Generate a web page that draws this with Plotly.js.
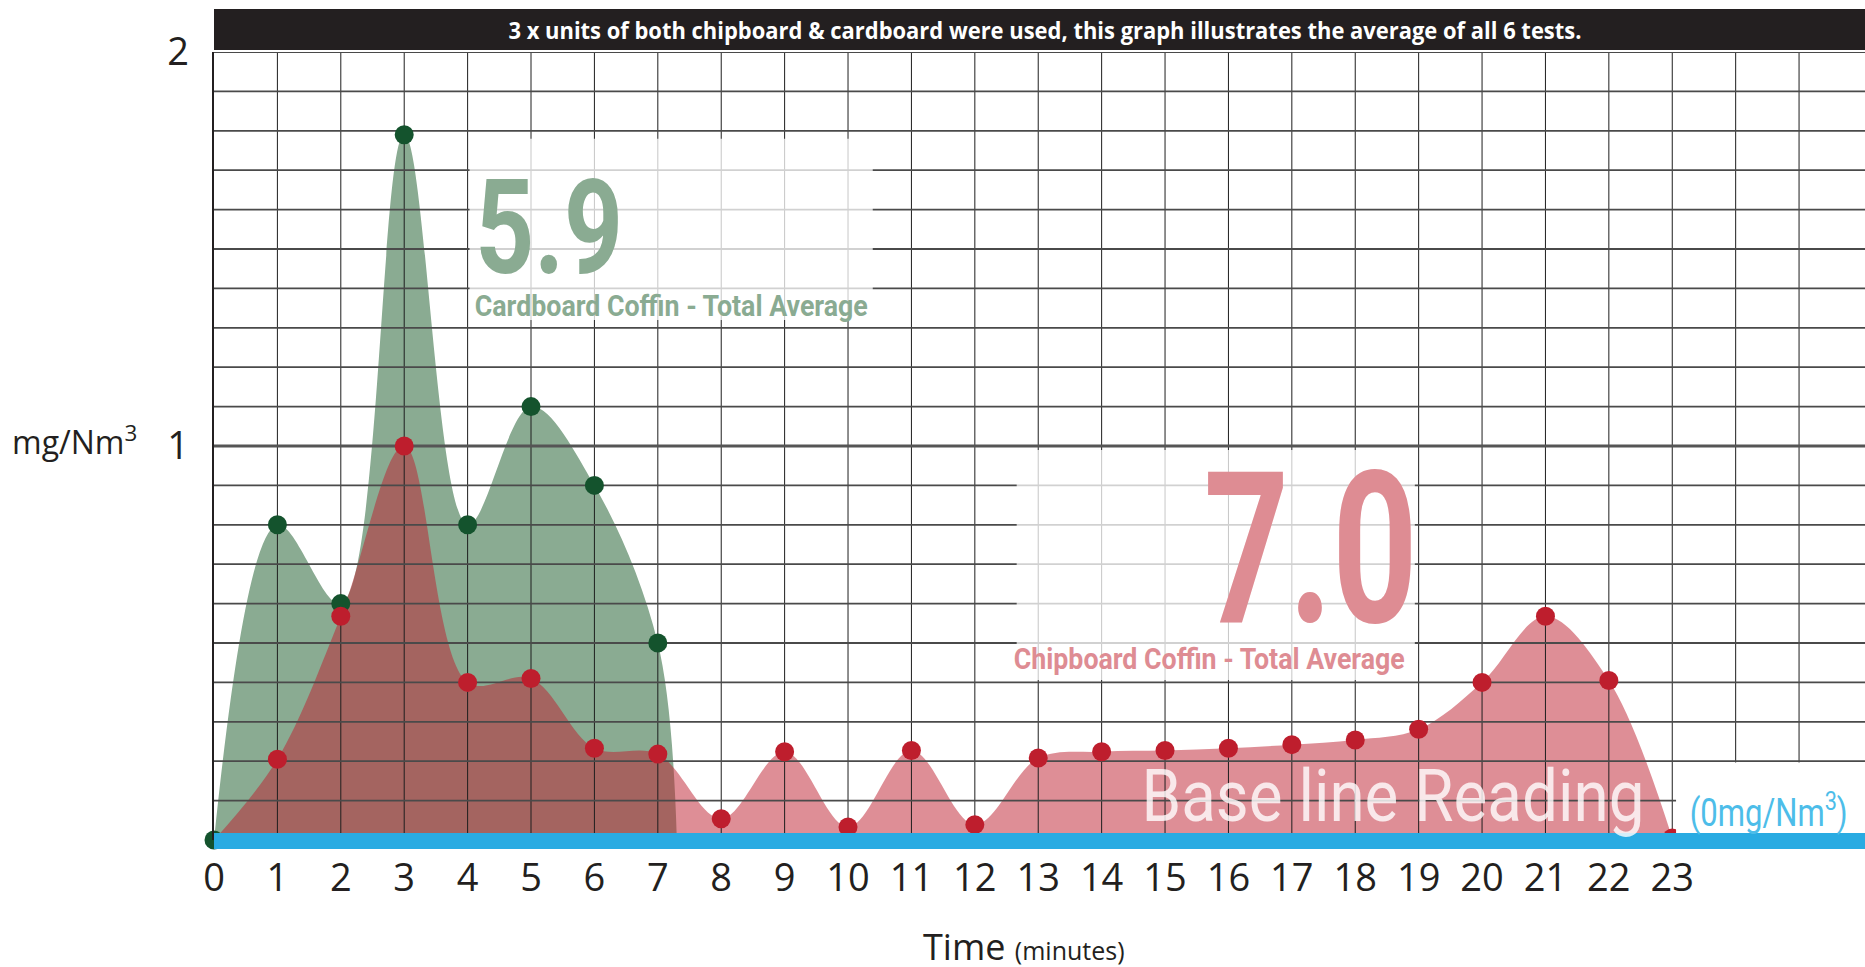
<!DOCTYPE html>
<html>
<head>
<meta charset="utf-8">
<script src="https://cdn.plot.ly/plotly-3.0.1.min.js"></script>
<style>
  html, body { margin: 0; padding: 0; background: #ffffff; }
  #chart { width: 1865px; height: 967px; }
</style>
</head>
<body>
<div id="chart"></div>
<script>
// ---------------- data ----------------
var minutes = [0,1,2,3,4,5,6,7,8,9,10,11,12,13,14,15,16,17,18,19,20,21,22,23];
var tickLabels = ["0","1","2","3","4","5","6","7","8","9","10","11","12","13","14","15","16","17","18","19","20","21","22","23"];

// Cardboard coffin (green), readings at minutes 0..7
var cardboardX = [0,1,2,3,4,5,6,7];
var cardboardY = [0,0.80,0.60,1.79,0.80,1.10,0.90,0.50];
// where the cardboard curve falls back to zero after the last reading
var cardboardEndX = 7.3;
var cardboardEndY = 0;

// Chipboard coffin (red), readings at minutes 0..23
var chipboardX = [0,1,2,3,4,5,6,7,8,9,10,11,12,13,14,15,16,17,18,19,20,21,22,23];
var chipboardY = [0,0.205,0.568,1.00,0.40,0.41,0.233,0.218,0.054,0.224,0.033,0.227,0.039,0.208,0.224,0.227,0.233,0.242,0.254,0.281,0.40,0.568,0.405,0.005];

var yTickVals = [1,2];
var yTickText = ["1","2"];

var cardboardAverage = "5.9";
var chipboardAverage = "7.0";

// ---------------- styling ----------------
var GREEN_FILL = "#8aab92";
var GREEN_DOT = "#14532d";
var RED_FILL = "rgba(190,30,45,0.5)";
var RED_DOT = "#be1e2d";
var RED_TEXT = "#de8c93";
var BLUE = "#29abe2";
var INK = "#231f20";
var XMAX = 26.04;

var MAIN_FONT = "'Open Sans', 'Noto Sans', sans-serif";
var DIN_FONT = "Roboto, 'Open Sans', sans-serif";

// plot area in pixels (for paper-coordinate helpers)
var L = 214, R = 1865, T = 52, B = 840;
function px(x) { return (x - L) / (R - L); }
function py(y) { return (B - y) / (B - T); }

// ---------------- grid (drawn as line traces so they sit above the fills) ----------------
var vGridX = [], vGridY = [];
for (var i = 1; i <= 25; i++) { vGridX.push(i, i, null); vGridY.push(0, 2, null); }
var hGridX = [], hGridY = [];
for (var j = 1; j <= 20; j++) {
  if (j === 10) continue;
  var v = j / 10;
  hGridX.push(0, XMAX, null); hGridY.push(v, v, null);
}

var traces = [
  { // cardboard area
    x: cardboardX.concat([cardboardEndX]),
    y: cardboardY.concat([cardboardEndY]),
    type: "scatter", mode: "lines", fill: "tozeroy", fillcolor: GREEN_FILL,
    line: { width: 0, shape: "spline", smoothing: 1, color: GREEN_FILL },
    hoverinfo: "skip"
  },
  { // chipboard area
    x: chipboardX, y: chipboardY,
    type: "scatter", mode: "lines", fill: "tozeroy", fillcolor: RED_FILL,
    line: { width: 0, shape: "spline", smoothing: 1, color: RED_FILL },
    hoverinfo: "skip"
  },
  { // vertical grid
    x: vGridX, y: vGridY, type: "scatter", mode: "lines",
    line: { color: "#1e1e1e", width: 1 }, hoverinfo: "skip", connectgaps: false
  },
  { // horizontal grid
    x: hGridX, y: hGridY, type: "scatter", mode: "lines",
    line: { color: "#4a4a4a", width: 1.8 }, hoverinfo: "skip", connectgaps: false
  },
  { // y = 1 line (heavier)
    x: [0, XMAX], y: [1, 1], type: "scatter", mode: "lines",
    line: { color: "#555555", width: 3 }, hoverinfo: "skip"
  },
  { // cardboard readings
    x: cardboardX, y: cardboardY, type: "scatter", mode: "markers", cliponaxis: false,
    marker: { color: GREEN_DOT, size: 19 }, hoverinfo: "skip"
  },
  { // chipboard readings
    x: chipboardX.slice(1), y: chipboardY.slice(1), type: "scatter", mode: "markers", cliponaxis: false,
    marker: { color: RED_DOT, size: 19 }, hoverinfo: "skip"
  }
];

// target rendered widths (px) for the condensed lettering, by annotation index
var condensedWidths = { 0: 1073, 3: 148, 4: 393, 5: 214, 6: 391, 7: 503, 8: 158 };

var layout = {
  width: 1865, height: 967,
  margin: { l: L, r: 1865 - R, t: T, b: 967 - B, pad: 0 },
  paper_bgcolor: "#ffffff", plot_bgcolor: "#ffffff",
  showlegend: false, hovermode: false,
  xaxis: {
    range: [0, XMAX], fixedrange: true,
    tickmode: "array", tickvals: minutes, ticktext: tickLabels,
    showgrid: false, zeroline: false, showline: false, ticks: "",
    ticklabelstandoff: 12,
    tickfont: { family: MAIN_FONT, size: 38, color: INK }
  },
  yaxis: {
    range: [0, 2], fixedrange: true,
    tickmode: "array", tickvals: yTickVals, ticktext: yTickText,
    showgrid: false, zeroline: false, showline: true,
    linecolor: INK, linewidth: 2.5, ticks: "",
    ticklabelstandoff: 15,
    tickfont: { family: MAIN_FONT, size: 38, color: INK }
  },
  shapes: [
    { type: "rect", xref: "paper", yref: "paper", x0: 0, x1: 1, y0: py(50), y1: py(9),
      fillcolor: INK, line: { width: 0 }, layer: "above" },
    { type: "rect", xref: "x", yref: "y", x0: 4.03, x1: 10.39, y0: 1.32, y1: 1.78,
      fillcolor: "rgba(255,255,255,0.75)", line: { width: 0 }, layer: "above" },
    { type: "rect", xref: "x", yref: "y", x0: 12.66, x1: 18.94, y0: 0.406, y1: 0.99,
      fillcolor: "rgba(255,255,255,0.75)", line: { width: 0 }, layer: "above" },
    { type: "rect", xref: "x", yref: "y", x0: 23.06, x1: XMAX, y0: 0, y1: 0.197,
      fillcolor: "#ffffff", line: { width: 0 }, layer: "above" },
    { type: "rect", xref: "paper", yref: "paper", x0: 0, x1: 1, y0: py(849), y1: py(833),
      fillcolor: BLUE, line: { width: 0 }, layer: "above" }
  ],
  annotations: [
    { xref: "paper", yref: "paper", x: px(1045), y: py(30), xanchor: "center", yanchor: "middle",
      text: "<b>3 x units of both chipboard &amp; cardboard were used, this graph illustrates the average of all 6 tests.</b>",
      showarrow: false, font: { family: MAIN_FONT, size: 24, color: "#ffffff" } },
    { xref: "paper", yref: "paper", x: px(10), y: py(440), xanchor: "left", yanchor: "middle",
      text: "mg/Nm<sup>3</sup>", showarrow: false,
      font: { family: MAIN_FONT, size: 32, color: INK } },
    { xref: "paper", yref: "paper", x: px(1024), y: py(946), xanchor: "center", yanchor: "middle",
      text: "Time <span style='font-size:25px'>(minutes)</span>", showarrow: false,
      font: { family: MAIN_FONT, size: 36, color: INK } },
    { xref: "paper", yref: "paper", x: px(549), y: py(228), xanchor: "center", yanchor: "middle",
      text: "<b>" + cardboardAverage + "</b>", showarrow: false,
      font: { family: DIN_FONT, size: 131, color: GREEN_FILL } },
    { xref: "paper", yref: "paper", x: px(671), y: py(305), xanchor: "center", yanchor: "middle",
      text: "<b>Cardboard Coffin - Total Average</b>", showarrow: false,
      font: { family: DIN_FONT, size: 30, color: GREEN_FILL } },
    { xref: "paper", yref: "paper", x: px(1310), y: py(550), xanchor: "center", yanchor: "middle",
      text: "<b>" + chipboardAverage + "</b>", showarrow: false,
      font: { family: DIN_FONT, size: 211, color: RED_TEXT } },
    { xref: "paper", yref: "paper", x: px(1209), y: py(658), xanchor: "center", yanchor: "middle",
      text: "<b>Chipboard Coffin - Total Average</b>", showarrow: false,
      font: { family: DIN_FONT, size: 30, color: RED_TEXT } },
    { xref: "paper", yref: "paper", x: px(1393), y: py(796), xanchor: "center", yanchor: "middle",
      text: "Base line Reading", showarrow: false,
      font: { family: DIN_FONT, size: 73, color: "rgba(255,255,255,0.8)" } },
    { xref: "paper", yref: "paper", x: px(1768), y: py(810), xanchor: "center", yanchor: "middle",
      text: "(0mg/Nm<sup>3</sup>)", showarrow: false,
      font: { family: DIN_FONT, size: 38, color: "#4dbde9" } }
  ]
};

Plotly.newPlot("chart", traces, layout, { staticPlot: true, displayModeBar: false, responsive: false })
  .then(function (gd) {
    // squeeze the lettering that is set in a condensed face in the original
    Object.keys(condensedWidths).forEach(function (k) {
      var g = gd.querySelector('g.annotation[data-index="' + k + '"] text.annotation-text');
      if (!g) return;
      g.setAttribute("textLength", condensedWidths[k]);
      g.setAttribute("lengthAdjust", "spacingAndGlyphs");
    });
  });
</script>
</body>
</html>
